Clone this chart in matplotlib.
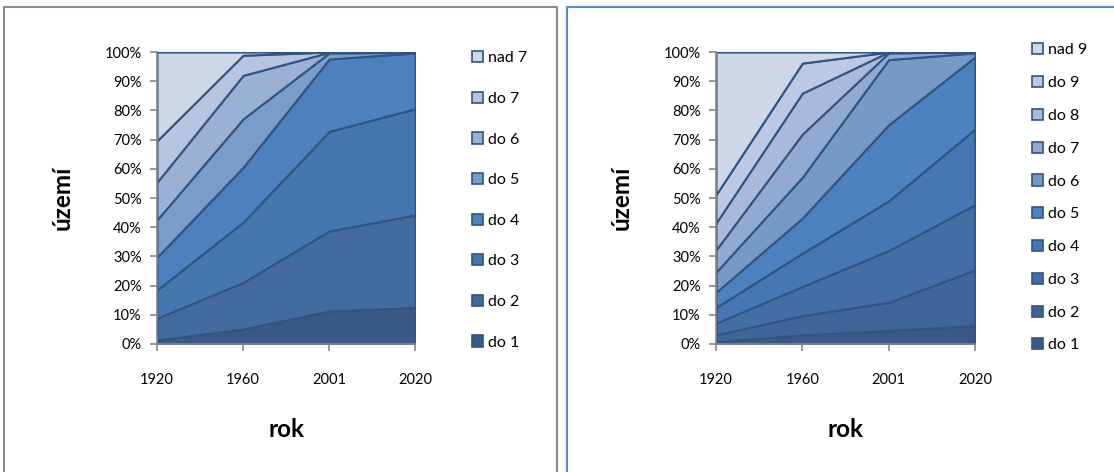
import matplotlib.pyplot as plt
import numpy as np
from matplotlib.patches import Rectangle

plt.rcParams['font.family'] = ['Lato', 'DejaVu Sans']

years = ['1920', '1960', '2001', '2020']

# left chart - cumulative shares (top edge of each band, %)
left_labels = ['do 1', 'do 2', 'do 3', 'do 4', 'do 5', 'do 6', 'do 7', 'nad 7']
left_cum = [
    [1.4, 5.1, 11.3, 12.5],
    [8.8, 21.1, 38.7, 44.2],
    [18.5, 41.7, 72.8, 80.6],
    [29.7, 60.5, 97.6, 99.7],
    [42.5, 77.1, 99.7, 99.9],
    [55.4, 92.0, 99.9, 100.0],
    [69.6, 98.9, 100.0, 100.0],
    [100.0, 100.0, 100.0, 100.0],
]
left_colors = ['#3a5a85', '#426a9f', '#4676ae', '#4c80be',
               '#7b9bc8', '#9bb1d4', '#b6c5e0', '#ced7e7']

# right chart
right_labels = ['do 1', 'do 2', 'do 3', 'do 4', 'do 5', 'do 6', 'do 7', 'do 8', 'do 9', 'nad 9']
right_cum = [
    [0.8, 3.1, 4.6, 6.3],
    [3.1, 9.7, 14.3, 25.4],
    [7.1, 19.7, 32.0, 47.7],
    [12.5, 31.1, 49.0, 73.6],
    [17.7, 43.1, 75.1, 98.3],
    [24.6, 57.1, 97.4, 99.7],
    [32.2, 71.9, 99.7, 100.0],
    [41.4, 85.9, 100.0, 100.0],
    [51.1, 96.2, 100.0, 100.0],
    [100.0, 100.0, 100.0, 100.0],
]
right_colors = ['#3a5a85', '#3f6598', '#436ea5', '#4677b2', '#4c82bf',
                '#7799c6', '#92a9d1', '#a9badb', '#bbc9e2', '#ced7e7']

line_col = '#2f5580'


def draw(ax, labels, cum, colors, spacing, leg_y):
    x = np.arange(len(years))
    prev = np.zeros(len(years))
    handles = []
    for lab, top, col in zip(labels, cum, colors):
        top = np.array(top) / 100
        h = ax.fill_between(x, prev, top, facecolor=col, edgecolor=line_col,
                            linewidth=1.5, label=lab)
        handles.append(h)
        prev = top
    ax.set_xlim(0, len(years) - 1)
    ax.set_ylim(0, 1)
    ax.set_xticks(x)
    ax.set_xticklabels(years)
    ax.set_yticks(np.arange(0, 1.01, 0.1))
    ax.set_yticklabels(['{}%'.format(int(round(v * 100))) for v in np.arange(0, 1.01, 0.1)])
    for s in ['top', 'right']:
        ax.spines[s].set_visible(False)
    for s in ['left', 'bottom']:
        ax.spines[s].set_color('#868686')
        ax.spines[s].set_linewidth(1.2)
    ax.tick_params(axis='both', colors='#868686', labelcolor='black', labelsize=10.5,
                   length=5, width=1.2, direction='out')
    ax.tick_params(axis='y', pad=6)
    ax.tick_params(axis='x', pad=16)
    ax.set_xlabel('rok', fontsize=17.5, fontweight='bold', labelpad=22)
    ax.set_ylabel('území', fontsize=17.5, fontweight='bold', labelpad=22)
    leg = ax.legend(handles[::-1], labels[::-1], loc='upper left',
                    bbox_to_anchor=(1.195, leg_y), frameon=False, fontsize=11.5,
                    handlelength=0.7, handleheight=0.7, handletextpad=0.3,
                    labelspacing=spacing, borderaxespad=0)
    for p in leg.get_patches():
        p.set_linewidth(1.2)


fig = plt.figure(figsize=(11.14, 4.72), dpi=100)
ax1 = fig.add_axes([0.1409, 0.2712, 0.2319, 0.6186])
ax2 = fig.add_axes([0.6427, 0.2712, 0.2325, 0.6186])

draw(ax1, left_labels, left_cum, left_colors, 1.655, 1.025)
draw(ax2, right_labels, right_cum, right_colors, 1.165, 1.052)

# panel frames
fig.patches.append(Rectangle((4 / 1114, -0.1), 553 / 1114, 1 - 7 / 472 + 0.1,
                             transform=fig.transFigure, fill=False,
                             edgecolor='#8c8c8c', linewidth=1.5))
fig.patches.append(Rectangle((567 / 1114, -0.1), 0.6, 1 - 7 / 472 + 0.1,
                             transform=fig.transFigure, fill=False,
                             edgecolor='#5a8ad0', linewidth=1.5))

fig.savefig('out.png', dpi=100)
